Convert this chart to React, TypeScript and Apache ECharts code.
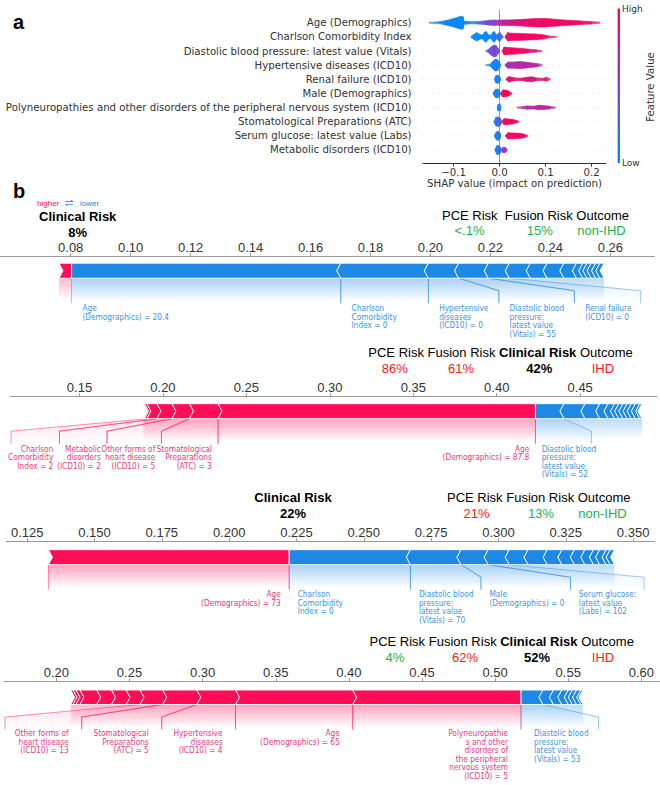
import React, { useEffect, useRef } from 'react';
import * as echarts from 'echarts';

// ---------------- Panel a : SHAP summary (beeswarm) ----------------
const FEATURES = [
  'Age (Demographics)',
  'Charlson Comorbidity Index',
  'Diastolic blood pressure: latest value (Vitals)',
  'Hypertensive diseases (ICD10)',
  'Renal failure (ICD10)',
  'Male (Demographics)',
  'Polyneuropathies and other disorders of the peripheral nervous system (ICD10)',
  'Stomatological Preparations (ATC)',
  'Serum glucose: latest value (Labs)',
  'Metabolic disorders (ICD10)',
];
const SHAP_TICKS = [-0.1, 0, 0.1, 0.2];

// each blob: [shap value, swarm half-height (rows), feature value 0..1]
const ROW_AGE = [
  [[-0.153, 0.04, 0.05], [-0.14, 0.05, 0.05], [-0.13, 0.08, 0.03], [-0.122, 0.12, 0.03], [-0.112, 0.2, 0.02], [-0.1, 0.3, 0.02], [-0.09, 0.4, 0.02], [-0.083, 0.46, 0.03], [-0.079, 0.42, 0.05], [-0.077, 0.12, 0.08], [-0.065, 0.08, 0.1], [-0.05, 0.09, 0.2], [-0.035, 0.12, 0.35], [-0.022, 0.17, 0.45], [-0.012, 0.2, 0.5], [-0.004, 0.18, 0.55], [0.005, 0.2, 0.7], [0.02, 0.2, 0.8], [0.04, 0.22, 0.85], [0.06, 0.26, 0.9], [0.08, 0.3, 0.92], [0.1, 0.3, 0.93], [0.12, 0.25, 0.93], [0.14, 0.2, 0.93], [0.16, 0.16, 0.93], [0.18, 0.12, 0.93], [0.2, 0.09, 0.93], [0.218, 0.04, 0.93]],
];
const ROW_CHARLSON = [
  [[-0.062, 0.04, 0], [-0.056, 0.18, 0], [-0.05, 0.3, 0], [-0.044, 0.2, 0], [-0.038, 0.12, 0], [-0.033, 0.3, 0.02], [-0.029, 0.38, 0.02], [-0.024, 0.15, 0.02], [-0.019, 0.12, 0.02], [-0.015, 0.3, 0.05], [-0.011, 0.38, 0.05], [-0.007, 0.15, 0.1], [-0.003, 0.2, 0.15], [0.0, 0.36, 0.2], [0.004, 0.15, 0.3], [0.008, 0.04, 0.4]],
  [[0.012, 0.05, 0.85], [0.018, 0.3, 0.9], [0.025, 0.26, 0.92], [0.04, 0.25, 0.93], [0.06, 0.22, 0.94], [0.08, 0.2, 0.95], [0.095, 0.15, 0.95], [0.105, 0.08, 0.95], [0.118, 0.05, 0.95], [0.125, 0.02, 0.95]],
];
const ROW_DIASTOLIC = [
  [[-0.03, 0.03, 0.4], [-0.024, 0.12, 0.42], [-0.018, 0.3, 0.42], [-0.012, 0.42, 0.42], [-0.007, 0.38, 0.42], [-0.003, 0.2, 0.42], [0.0, 0.04, 0.42]],
  [[0.006, 0.04, 0.9], [0.01, 0.28, 0.93], [0.02, 0.25, 0.95], [0.035, 0.22, 0.95], [0.05, 0.18, 0.93], [0.065, 0.12, 0.9], [0.08, 0.09, 0.88], [0.092, 0.03, 0.85]],
];
const ROW_HYPERTENSIVE = [
  [[-0.03, 0.03, 0.05], [-0.02, 0.08, 0.05], [-0.015, 0.25, 0.05], [-0.009, 0.42, 0.05], [-0.004, 0.38, 0.07], [0.0, 0.2, 0.1], [0.003, 0.04, 0.1]],
  [[0.012, 0.04, 0.6], [0.018, 0.22, 0.62], [0.03, 0.22, 0.64], [0.045, 0.25, 0.66], [0.06, 0.2, 0.68], [0.075, 0.14, 0.7], [0.085, 0.1, 0.7], [0.093, 0.03, 0.7]],
];
const ROW_RENAL = [
  [[-0.011, 0.04, 0.05], [-0.008, 0.25, 0.05], [-0.004, 0.3, 0.05], [0.0, 0.22, 0.08], [0.003, 0.04, 0.1]],
  [[0.014, 0.04, 0.85], [0.02, 0.2, 0.9], [0.03, 0.12, 0.9], [0.045, 0.08, 0.85], [0.06, 0.15, 0.85], [0.07, 0.18, 0.85], [0.08, 0.1, 0.82], [0.095, 0.08, 0.82], [0.102, 0.14, 0.85], [0.11, 0.03, 0.85]],
];
const ROW_MALE = [
  [[-0.014, 0.04, 0.05], [-0.009, 0.28, 0.05], [-0.004, 0.32, 0.05], [0.0, 0.2, 0.1], [0.002, 0.05, 0.3]],
  [[0.003, 0.05, 0.95], [0.007, 0.25, 0.97], [0.014, 0.24, 0.98], [0.021, 0.16, 0.98], [0.027, 0.03, 0.98]],
];
const ROW_POLY = [
  [[-0.005, 0.04, 0.05], [-0.003, 0.24, 0.05], [0.001, 0.24, 0.05], [0.003, 0.04, 0.05]],
  [[0.038, 0.03, 0.7], [0.05, 0.08, 0.7], [0.06, 0.12, 0.72], [0.075, 0.1, 0.7], [0.085, 0.16, 0.72], [0.095, 0.14, 0.72], [0.11, 0.1, 0.7], [0.122, 0.03, 0.7]],
];
const ROW_STOMAT = [
  [[-0.012, 0.04, 0.1], [-0.008, 0.3, 0.15], [-0.003, 0.34, 0.2], [0.002, 0.25, 0.3], [0.005, 0.05, 0.5]],
  [[0.006, 0.05, 0.9], [0.01, 0.22, 0.95], [0.02, 0.2, 0.97], [0.03, 0.15, 0.97], [0.038, 0.08, 0.97], [0.043, 0.02, 0.97]],
];
const ROW_SERUM = [
  [[-0.011, 0.04, 0.05], [-0.007, 0.28, 0.07], [-0.003, 0.32, 0.1], [0.001, 0.2, 0.15], [0.003, 0.04, 0.2]],
  [[0.013, 0.04, 0.9], [0.018, 0.22, 0.93], [0.03, 0.2, 0.95], [0.045, 0.18, 0.95], [0.055, 0.12, 0.93], [0.062, 0.03, 0.93]],
];
const ROW_METABOLIC = [
  [[-0.01, 0.04, 0.05], [-0.006, 0.3, 0.08], [-0.002, 0.32, 0.1], [0.002, 0.22, 0.15], [0.004, 0.05, 0.3]],
  [[0.004, 0.05, 0.6], [0.008, 0.2, 0.62], [0.013, 0.18, 0.62], [0.017, 0.03, 0.6]],
];
const SWARM_ROWS = [ROW_AGE, ROW_CHARLSON, ROW_DIASTOLIC, ROW_HYPERTENSIVE, ROW_RENAL, ROW_MALE, ROW_POLY, ROW_STOMAT, ROW_SERUM, ROW_METABOLIC];

// ---------------- Panel b : force plots ----------------
// risk columns: PCE, Fusion, Clinical, Outcome
const P1_RISK = ['<.1%', '15%', '8%', 'non-IHD'];
const P2_RISK = ['86%', '61%', '42%', 'IHD'];
const P3_RISK = ['21%', '13%', '22%', 'non-IHD'];
const P4_RISK = ['4%', '62%', '52%', 'IHD'];

const P1_TICKS = [0.08, 0.1, 0.12, 0.14, 0.16, 0.18, 0.2, 0.22, 0.24, 0.26];
const P1_RED = [0.0761, 0.0803];
const P1_BLUE = [0.0803, 0.1701, 0.1993, 0.2094, 0.2193, 0.2263, 0.2333, 0.2389, 0.2445, 0.2487, 0.2508, 0.2522, 0.2536, 0.2551, 0.2565, 0.2579];
// [segment start, segment end, label start, label end, direction]
const P1_SPANS = [
  [0.0803, 0.1701, 0.0803, 0.1701, -1],
  [0.1701, 0.1993, 0.1701, 0.1993, -1],
  [0.1993, 0.2094, 0.1993, 0.2228, -1],
  [0.2094, 0.2193, 0.2228, 0.248, -1],
  [0.2193, 0.2263, 0.248, 0.2701, -1],
];
const P1_TEXT = [
  ['Age', '(Demographics) = 20.4'],
  ['Charlson', 'Comorbidity', 'Index = 0'],
  ['Hypertensive', 'diseases', '(ICD10) = 0'],
  ['Diastolic blood', 'pressure:', 'latest value', '(Vitals) = 55'],
  ['Renal failure', '(ICD10) = 0'],
];

const P2_TICKS = [0.15, 0.2, 0.25, 0.3, 0.35, 0.4, 0.45];
const P2_RED = [0.1883, 0.189, 0.1904, 0.1964, 0.2054, 0.2159, 0.233, 0.4232];
const P2_BLUE = [0.4232, 0.4403, 0.4529, 0.4617, 0.4667, 0.4706, 0.4731, 0.4756, 0.4781, 0.4806, 0.4831, 0.4857, 0.487];
const P2_SPANS = [
  [0.1904, 0.1964, 0.109, 0.138, 1],
  [0.1964, 0.2054, 0.138, 0.1665, 1],
  [0.2054, 0.2159, 0.1665, 0.1991, 1],
  [0.2159, 0.233, 0.1991, 0.233, 1],
  [0.233, 0.4232, 0.233, 0.4232, 1],
  [0.4232, 0.4403, 0.4232, 0.4567, -1],
];
const P2_TEXT = [
  ['Charlson', 'Comorbidity', 'Index = 2'],
  ['Metabolic', 'disorders', '(ICD10) = 2'],
  ['Other forms of', 'heart disease', '(ICD10) = 5'],
  ['Stomatological', 'Preparations', '(ATC) = 3'],
  ['Age', '(Demographics) = 87.8'],
  ['Diastolic blood', 'pressure:', 'latest value', '(Vitals) = 52'],
];

const P3_TICKS = [0.125, 0.15, 0.175, 0.2, 0.225, 0.25, 0.275, 0.3, 0.325, 0.35];
const P3_RED = [0.1329, 0.2223];
const P3_BLUE = [0.2223, 0.2673, 0.2861, 0.2962, 0.304, 0.311, 0.3181, 0.3236, 0.3282, 0.3321, 0.3353, 0.3376, 0.34, 0.3415, 0.3431];
const P3_SPANS = [
  [0.1329, 0.2223, 0.1329, 0.2223, 1],
  [0.2223, 0.2673, 0.2223, 0.2673, -1],
  [0.2673, 0.2861, 0.2673, 0.2935, -1],
  [0.2861, 0.2962, 0.2935, 0.3267, -1],
  [0.2962, 0.304, 0.3267, 0.3541, -1],
];
const P3_TEXT = [
  ['Age', '(Demographics) = 73'],
  ['Charlson', 'Comorbidity', 'Index = 0'],
  ['Diastolic blood', 'pressure:', 'latest value', '(Vitals) = 70'],
  ['Male', '(Demographics) = 0'],
  ['Serum glucose:', 'latest value', '(Labs) = 102'],
];

const P4_TICKS = [0.2, 0.25, 0.3, 0.35, 0.4, 0.45, 0.5, 0.55, 0.6];
const P4_RED = [0.2098, 0.2114, 0.2134, 0.2161, 0.2276, 0.2377, 0.2477, 0.2572, 0.2727, 0.296, 0.3225, 0.4026, 0.5177];
const P4_BLUE = [0.5177, 0.5327, 0.5399, 0.5456, 0.55, 0.5528, 0.5557, 0.5586, 0.56];
const P4_SPANS = [
  [0.2572, 0.2727, 0.1649, 0.2173, 1],
  [0.2727, 0.296, 0.2173, 0.272, 1],
  [0.296, 0.3225, 0.272, 0.3225, 1],
  [0.3225, 0.4026, 0.3225, 0.4026, 1],
  [0.4026, 0.5177, 0.4026, 0.5177, 1],
  [0.5177, 0.5327, 0.5177, 0.5707, -1],
];
const P4_TEXT = [
  ['Other forms of', 'heart disease', '(ICD10) = 13'],
  ['Stomatological', 'Preparations', '(ATC) = 5'],
  ['Hypertensive', 'diseases', '(ICD10) = 4'],
  ['Age', '(Demographics) = 65'],
  ['Polyneuropathie', 's and other', 'disorders of', 'the peripheral', 'nervous system', '(ICD10) = 5'],
  ['Diastolic blood', 'pressure:', 'latest value', '(Vitals) = 53'],
];

// ---------------- styling / layout ----------------
const PINK = '#ff0d57';
const BLUE = '#1e88e5';
const PINK_TEXT = '#e3407a';
const BLUE_TEXT = '#3b95e0';
const GREEN = '#1fb04a';
const RED = '#ff1a1a';
const SANS = "'Liberation Sans', Arial, sans-serif";
const DV = "'DejaVu Sans', sans-serif";

const PANELS = [
  { ticks: P1_TICKS, red: P1_RED, blue: P1_BLUE, spans: P1_SPANS, text: P1_TEXT, risk: P1_RISK,
    axisY: 256.7, left: 0, right: 654.5, min: 0.05642, max: 0.27473, dec: 2, barOff: 6.5, barH: 15, textOff: 30.4, lineH: 8.6, dx: 10.8,
    head: { x: 442, y: 215.7, words: ['PCE Risk', ' ', 'Fusion Risk', 'Outcome'] }, clinical: { cx: 77.7, y: 216.7, vy: 232.7 },
    valY: 230.3, valX: [469.5, 539.7, 77.7, 601.5] },
  { ticks: P2_TICKS, red: P2_RED, blue: P2_BLUE, spans: P2_SPANS, text: P2_TEXT, risk: P2_RISK,
    axisY: 396.7, left: 10.5, right: 656.6, min: 0.10866, max: 0.49578, dec: 2, barOff: 7, barH: 15, textOff: 30.5, lineH: 8.4, dx: 6.2,
    head: { x: 368.3, y: 352.3, words: ['PCE Risk', 'Fusion Risk', 'Clinical Risk', 'Outcome'] }, clinical: null,
    valY: 368.3, valX: [394.8, 461, 539.3, 602.9] },
  { ticks: P3_TICKS, red: P3_RED, blue: P3_BLUE, spans: P3_SPANS, text: P3_TEXT, risk: P3_RISK,
    axisY: 541.7, left: 6.3, right: 654.5, min: 0.11725, max: 0.35795, dec: 3, barOff: 8, barH: 15, textOff: 30, lineH: 8.5, dx: 8.5,
    head: { x: 447, y: 497.7, words: ['PCE Risk', 'Fusion Risk', 'Outcome'] }, clinical: { cx: 293, y: 497.7, vy: 513.3 },
    valY: 513.3, valX: [476.5, 541, 293, 602.5] },
  { ticks: P4_TICKS, red: P4_RED, blue: P4_BLUE, spans: P4_SPANS, text: P4_TEXT, risk: P4_RISK,
    axisY: 681.7, left: 4.2, right: 660, min: 0.16431, max: 0.61272, dec: 2, barOff: 8.3, barH: 14.5, textOff: 28.9, lineH: 8.5, dx: 13,
    head: { x: 369.5, y: 641.7, words: ['PCE Risk', 'Fusion Risk', 'Clinical Risk', 'Outcome'] }, clinical: null,
    valY: 657.3, valX: [395, 465, 537, 603] },
];

function hexRgb(h: string) {
  const n = parseInt(h.slice(1), 16);
  return [(n >> 16) & 255, (n >> 8) & 255, n & 255];
}
function rgba(h: string, a: number) {
  const [r, g, b] = hexRgb(h);
  return `rgba(${r},${g},${b},${a})`;
}
const CMAP: [number, number[]][] = [[0, [0, 139, 251]], [0.5, [138, 63, 207]], [1, [255, 0, 82]]];
function cmap(t: number) {
  t = Math.max(0, Math.min(1, t));
  let i = 0;
  while (i < CMAP.length - 2 && t > CMAP[i + 1][0]) i++;
  const [t0, c0] = CMAP[i];
  const [t1, c1] = CMAP[i + 1];
  const f = (t - t0) / (t1 - t0);
  const c = c0.map((v, k) => Math.round(v + (c1[k] - v) * f));
  return `rgb(${c[0]},${c[1]},${c[2]})`;
}

function riskColor(s: string, col: number) {
  if (col === 2) return '#000';
  if (col === 3) return s === 'IHD' ? RED : GREEN;
  const v = parseFloat(s.replace('<', '0').replace('%', ''));
  return v >= 20 ? RED : GREEN;
}

function txt(x: number, y: number, text: string, o: any = {}) {
  return {
    type: 'text', x, y, rotation: o.rot || 0, silent: true,
    style: {
      text, fill: o.fill || '#000', fontSize: o.size || 13, fontFamily: o.family || SANS,
      fontWeight: o.weight || 'normal', align: o.align || 'center', verticalAlign: 'middle',
    },
  };
}

function buildOption() {
  const grid: any[] = [{ left: 423, top: 10, width: 183, height: 153, outerBoundsMode: 'none' }];
  const xAxis: any[] = [{
    gridIndex: 0, type: 'value', min: -0.1663, max: 0.2315, position: 'bottom',
    axisLine: { show: true, onZero: false, lineStyle: { color: '#333', width: 1 } },
    axisTick: { show: true, length: 3.5, customValues: SHAP_TICKS, lineStyle: { color: '#333' } },
    axisLabel: {
      customValues: SHAP_TICKS, fontSize: 10.2, fontFamily: DV, color: '#333', margin: 4,
      formatter: (v: number) => (Math.abs(v) < 1e-9 ? '0.0' : (v < 0 ? '\u2212' : '') + Math.abs(v).toFixed(1)),
    },
    splitLine: { show: false },
  }];
  const yAxis: any[] = [{
    gridIndex: 0, type: 'value', min: -0.9, max: 9.92, inverse: true,
    axisLine: { show: false }, axisTick: { show: false }, splitLine: { show: false },
    axisLabel: {
      customValues: FEATURES.map((_, i) => i), fontSize: 10.2, fontFamily: DV, color: '#333', margin: 11.4,
      formatter: (v: number) => FEATURES[Math.round(v)] || '',
    },
  }];
  const series: any[] = [];

  // zero line
  series.push({
    type: 'custom', xAxisIndex: 0, yAxisIndex: 0, z: 1, silent: true,
    data: [[0, 0]],
    renderItem: (params: any, api: any) => {
      const cs = params.coordSys;
      const x = api.coord([0, 0])[0];
      return { type: 'line', shape: { x1: x, y1: cs.y, x2: x, y2: cs.y + cs.height }, style: { stroke: '#999', lineWidth: 1 } };
    },
  });
  // row guide lines
  series.push({
    type: 'custom', xAxisIndex: 0, yAxisIndex: 0, z: 1, silent: true,
    data: FEATURES.map((_, i) => [0, i]),
    renderItem: (params: any, api: any) => {
      const cs = params.coordSys;
      const y = api.coord([0, api.value(1)])[1];
      return { type: 'line', shape: { x1: cs.x, y1: y, x2: cs.x + cs.width, y2: y }, style: { stroke: '#cccccc', lineWidth: 0.6, lineDash: [1, 4] } };
    },
  });
  // swarm blobs
  const blobData: number[][] = [];
  SWARM_ROWS.forEach((row, r) => row.forEach((_, b) => blobData.push([r, b])));
  series.push({
    type: 'custom', xAxisIndex: 0, yAxisIndex: 0, z: 2, silent: true,
    encode: { x: -1, y: 0 },
    data: blobData,
    renderItem: (params: any, api: any) => {
      const row = api.value(0);
      const prof = SWARM_ROWS[row][api.value(1)];
      const children: any[] = [];
      for (let k = 0; k < prof.length - 1; k++) {
        const [xa, ha, ca] = prof[k];
        const [xb, hb, cb] = prof[k + 1];
        const pts = [api.coord([xa, row - ha]), api.coord([xb, row - hb]), api.coord([xb, row + hb]), api.coord([xa, row + ha])];
        const c = cmap((ca + cb) / 2);
        const op = Math.min(1, 0.5 + ((ha + hb) / 2) * 4);
        children.push({ type: 'polygon', shape: { points: pts }, style: { fill: c, stroke: c, lineWidth: 0.6, opacity: op } });
      }
      return { type: 'group', children };
    },
  });

  const graphic: any[] = [];
  const richBase = { fontSize: 13, fontFamily: SANS, fill: '#000', color: '#000' };

  PANELS.forEach((p, pi) => {
    const gi = pi + 1;
    grid.push({ left: p.left, top: p.axisY, width: p.right - p.left, height: 110, outerBoundsMode: 'none' });
    xAxis.push({
      gridIndex: gi, type: 'value', position: 'top', min: p.min, max: p.max,
      axisLine: { show: true, onZero: false, lineStyle: { color: '#999', width: 1 } },
      axisTick: { show: true, inside: false, length: 3.5, customValues: p.ticks, lineStyle: { color: '#999' } },
      axisLabel: { customValues: p.ticks, fontSize: 13, fontFamily: SANS, color: '#333', margin: 3, formatter: (v: number) => v.toFixed(p.dec) },
      splitLine: { show: false },
    });
    yAxis.push({ gridIndex: gi, type: 'value', min: 0, max: 1, show: false });

    const segs: number[][] = [];
    for (let i = 0; i < p.red.length - 1; i++) segs.push([p.red[i], p.red[i + 1], 1, i === p.red.length - 2 ? 1 : 0]);
    for (let i = 0; i < p.blue.length - 1; i++) segs.push([p.blue[i], p.blue[i + 1], -1, i === 0 ? 1 : 0]);

    // labels (shading + connector lines + text)
    series.push({
      type: 'custom', xAxisIndex: gi, yAxisIndex: gi, z: 2, silent: true, clip: false,
      encode: { x: [0, 1, 2, 3], y: -1 },
      data: p.spans,
      renderItem: (params: any, api: any) => {
        const cs = params.coordSys;
        const X = (d: number) => api.coord([api.value(d), 0])[0];
        const s0 = X(0), s1 = X(1), b0 = X(2), b1 = X(3);
        const sign = api.value(4);
        const bot = cs.y + p.barOff + p.barH;
        const sl = bot + 12.5, ve = bot + 25, ty = bot + p.textOff;
        const col = sign > 0 ? PINK : BLUE;
        const lc = rgba(col, 0.45);
        const children: any[] = [
          {
            type: 'polygon', shape: { points: [[s0, bot], [s1, bot], [b1, sl], [b1, ve], [b0, ve], [b0, sl]] },
            style: { fill: new echarts.graphic.LinearGradient(0, 0, 0, 1, [{ offset: 0, color: rgba(col, 0.12) }, { offset: 1, color: rgba(col, 0) }]) },
          },
          { type: 'polyline', shape: { points: [[s0, bot], [b0, sl], [b0, ve]] }, style: { stroke: lc, lineWidth: 1, fill: null } },
          { type: 'polyline', shape: { points: [[s1, bot], [b1, sl], [b1, ve]] }, style: { stroke: lc, lineWidth: 1, fill: null } },
        ];
        const lines = p.text[params.dataIndex];
        lines.forEach((t: string, k: number) => {
          children.push({
            type: 'text', x: sign > 0 ? b1 - p.dx : b0 + p.dx, y: ty + k * p.lineH, scaleX: 0.86, scaleY: 1,
            style: { text: t, fill: sign > 0 ? PINK_TEXT : BLUE_TEXT, fontSize: 8.6, fontFamily: DV, align: sign > 0 ? 'right' : 'left', verticalAlign: 'middle' },
          });
        });
        return { type: 'group', children };
      },
    });
    // bar segments (chevrons)
    series.push({
      type: 'custom', xAxisIndex: gi, yAxisIndex: gi, z: 3, silent: true, clip: false,
      encode: { x: [0, 1], y: -1 },
      data: segs,
      renderItem: (params: any, api: any) => {
        const cs = params.coordSys;
        const x0 = api.coord([api.value(0), 0])[0];
        const x1 = api.coord([api.value(1), 0])[0];
        const sign = api.value(2);
        const flat = api.value(3);
        const top = cs.y + p.barOff, bot = top + p.barH, mid = (top + bot) / 2;
        const h = 4;
        const col = sign > 0 ? PINK : BLUE;
        const pts = sign > 0
          ? [[x0, top], [x1, top], [flat ? x1 : x1 + h, mid], [x1, bot], [x0, bot], [x0 + h, mid]]
          : [[x0, top], [x1, top], [x1 - h, mid], [x1, bot], [x0, bot], [flat ? x0 : x0 - h, mid]];
        return {
          type: 'group', children: [
            {
              type: 'rect', shape: { x: x0, y: bot, width: x1 - x0, height: 22 },
              style: { fill: new echarts.graphic.LinearGradient(0, 0, 0, 1, [{ offset: 0, color: rgba(col, 0.3) }, { offset: 1, color: rgba(col, 0) }]) },
            },
            { type: 'polygon', shape: { points: pts }, style: { fill: col, stroke: '#fff', lineWidth: 0.9 } },
          ],
        };
      },
    });

    // header line (single run of text, Clinical Risk in bold)
    const parts = p.head.words.map((w: string) => (w === 'Clinical Risk' ? `{b|${w}}` : `{n|${w}}`));
    const headText = parts.join('{n| }').replace('{n| }{n| }{n| }', '{n|  }');
    graphic.push({
      type: 'text', x: p.head.x, y: p.head.y, silent: true,
      style: {
        text: headText, align: 'left', verticalAlign: 'middle', fontSize: 13, fontFamily: SANS, fill: '#000',
        rich: { n: { ...richBase }, b: { ...richBase, fontWeight: 'bold' } },
      },
    });
    if (p.clinical) {
      graphic.push(txt(p.clinical.cx, p.clinical.y, 'Clinical Risk', { weight: 'bold' }));
    }
    p.risk.forEach((v: string, c: number) => {
      const isClin = c === 2;
      const y = isClin && p.clinical ? p.clinical.vy : p.valY;
      graphic.push(txt(p.valX[c], y, v, { weight: isClin ? 'bold' : 'normal', fill: riskColor(v, c) }));
    });
  });

  // panel letters
  graphic.push(txt(13, 22, 'a', { align: 'left', size: 20, weight: 'bold' }));
  graphic.push(txt(13, 191, 'b', { align: 'left', size: 20, weight: 'bold' }));
  // beeswarm x axis title
  graphic.push(txt(514.5, 183.5, 'SHAP value (impact on prediction)', { size: 10.2, family: DV, fill: '#333' }));
  // colour bar
  graphic.push({
    type: 'rect', shape: { x: 617.6, y: 8.5, width: 2.4, height: 154.5 }, silent: true,
    style: { fill: new echarts.graphic.LinearGradient(0, 0, 0, 1, [{ offset: 0, color: '#ff0052' }, { offset: 0.5, color: '#8a3fcf' }, { offset: 1, color: '#008bfb' }]) },
  });
  graphic.push(txt(622, 8.5, 'High', { align: 'left', size: 9, family: DV, fill: '#333' }));
  graphic.push(txt(622, 163, 'Low', { align: 'left', size: 9, family: DV, fill: '#333' }));
  graphic.push(txt(650, 87, 'Feature Value', { size: 10.2, family: DV, fill: '#333', rot: Math.PI / 2 }));
  // higher / lower legend
  graphic.push(txt(37, 203, 'higher', { align: 'left', size: 8, fill: PINK }));
  graphic.push({ type: 'polyline', silent: true, shape: { points: [[65.5, 201.6], [73, 201.6], [71, 200.2]] }, style: { stroke: PINK, lineWidth: 0.8, fill: null } });
  graphic.push({ type: 'polyline', silent: true, shape: { points: [[73, 204.6], [65.5, 204.6], [67.5, 206]] }, style: { stroke: BLUE, lineWidth: 0.8, fill: null } });
  graphic.push(txt(80, 203, 'lower', { align: 'left', size: 8, fill: BLUE }));

  return {
    animation: false,
    backgroundColor: '#fff',
    textStyle: { fontFamily: SANS },
    grid, xAxis, yAxis, series, graphic,
  };
}

export default function App() {
  const ref = useRef<HTMLDivElement>(null);
  useEffect(() => {
    if (!ref.current) return;
    const chart = echarts.init(ref.current, null, { renderer: 'svg' });
    chart.setOption(buildOption() as any);
    return () => chart.dispose();
  }, []);
  return <div ref={ref} style={{ position: 'absolute', left: 0, top: 0, width: 660, height: 785, background: '#fff' }} />;
}
